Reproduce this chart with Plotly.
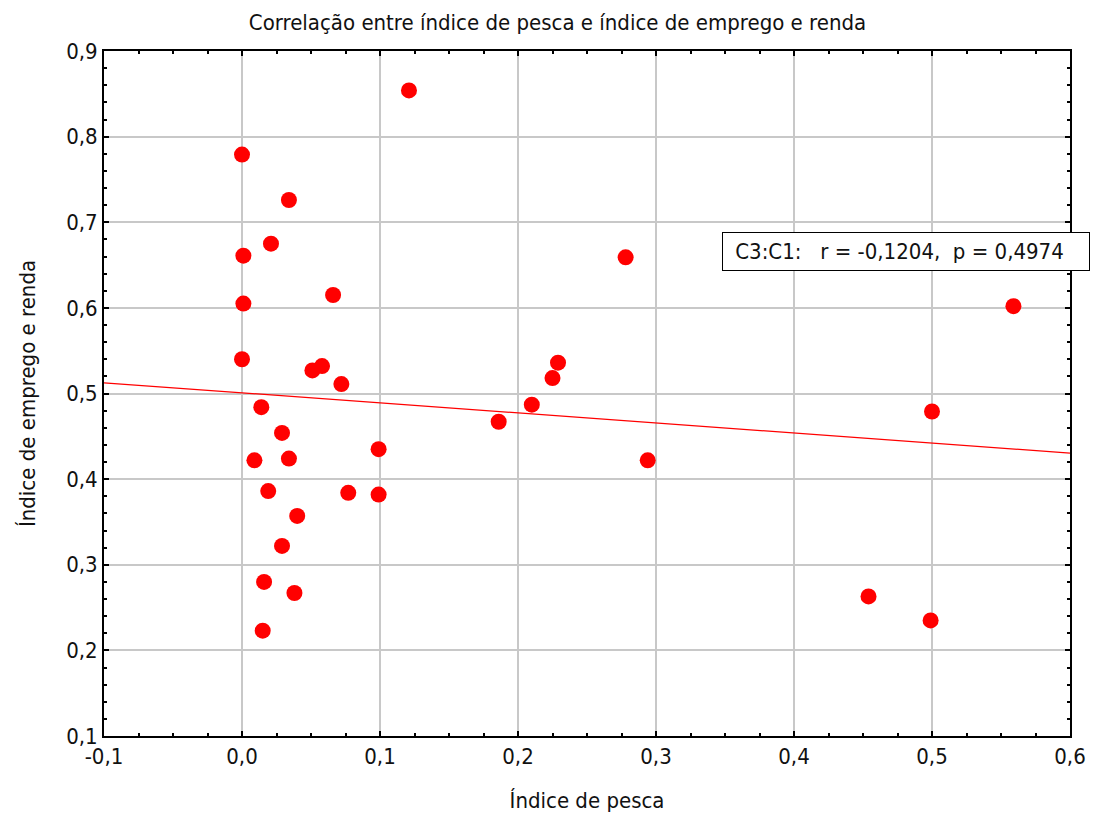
import numpy as np
import plotly.graph_objects as go

# valores (índice de pesca x índice de emprego e renda)
indice_pesca = [
    0.000, 0.034, 0.021, 0.001, 0.066, 0.001, 0.000, 0.051, 0.058, 0.072,
    0.014, 0.029, 0.009, 0.034, 0.099, 0.019, 0.077, 0.099, 0.040, 0.029,
    0.016, 0.038, 0.015, 0.121, 0.278, 0.559, 0.229, 0.225, 0.210, 0.186,
    0.294, 0.500, 0.454, 0.499,
]
indice_emprego = [
    0.779, 0.726, 0.675, 0.661, 0.615, 0.605, 0.540, 0.527, 0.532, 0.511,
    0.484, 0.454, 0.422, 0.424, 0.435, 0.386, 0.384, 0.382, 0.357, 0.322,
    0.280, 0.267, 0.223, 0.854, 0.659, 0.602, 0.536, 0.518, 0.487, 0.467,
    0.422, 0.479, 0.263, 0.235,
]

x_ticks = [-0.1, 0.0, 0.1, 0.2, 0.3, 0.4, 0.5, 0.6]
x_labels = ["-0,1", "0,0", "0,1", "0,2", "0,3", "0,4", "0,5", "0,6"]
y_ticks = [0.1, 0.2, 0.3, 0.4, 0.5, 0.6, 0.7, 0.8, 0.9]
y_labels = ["0,1", "0,2", "0,3", "0,4", "0,5", "0,6", "0,7", "0,8", "0,9"]

texto_corr = "\u00a0C3:C1:\u00a0\u00a0 r = -0,1204,\u00a0 p = 0,4974" + "\u00a0" * 3

# reta de regressão linear
coef = np.polyfit(indice_pesca, indice_emprego, 1)
reta_x = np.array([-0.1, 0.6])
reta_y = np.polyval(coef, reta_x)

fonte = "DejaVu Sans Condensed, Liberation Sans Narrow, sans-serif"

fig = go.Figure()
fig.add_trace(go.Scatter(
    x=reta_x, y=reta_y, mode="lines",
    line=dict(color="#ff0000", width=1.2), hoverinfo="skip",
))
fig.add_trace(go.Scatter(
    x=indice_pesca, y=indice_emprego, mode="markers",
    marker=dict(color="#ff0000", size=16, line=dict(width=0)),
))

eixo = dict(
    showline=True, linecolor="black", linewidth=2, mirror="ticks",
    ticks="inside", ticklen=5, tickwidth=1.5, tickcolor="black",
    showgrid=True, gridcolor="#c8c8c8", gridwidth=1.5,
    zeroline=False,
    tickfont=dict(family=fonte, size=22, color="#111"),
)

# o navegador desloca a página em 8 px; margens compensam
fig.update_layout(
    width=1099, height=822,
    margin=dict(l=96, r=37, t=43, b=94),
    paper_bgcolor="white", plot_bgcolor="white",
    showlegend=False,
    font=dict(family=fonte, color="#111"),
    title=dict(
        text="Correlação entre índice de pesca e índice de emprego e renda",
        x=0.5, xanchor="center", y=0.983, yanchor="middle",
        font=dict(family=fonte, size=22, color="#111"),
    ),
    xaxis=dict(
        eixo, range=[-0.1, 0.6], tickvals=x_ticks, ticktext=x_labels,
        minor=dict(dtick=0.025, ticks="inside", ticklen=3, tickcolor="black", showgrid=False),
        title=dict(text="Índice de pesca", font=dict(family=fonte, size=22), standoff=24),
    ),
    yaxis=dict(
        eixo, range=[0.1, 0.9], tickvals=y_ticks, ticktext=y_labels,
        minor=dict(dtick=0.02, ticks="inside", ticklen=3, tickcolor="black", showgrid=False),
        title=dict(text="Índice de emprego e renda", font=dict(family=fonte, size=22), standoff=24),
    ),
    annotations=[dict(
        text=texto_corr, xref="paper", yref="paper",
        x=0.64, y=0.708, xanchor="left", yanchor="middle",
        showarrow=False, bgcolor="white", bordercolor="black", borderwidth=1,
        borderpad=6, font=dict(family=fonte, size=22, color="#111"),
    )],
)

fig.write_html("out.html")
